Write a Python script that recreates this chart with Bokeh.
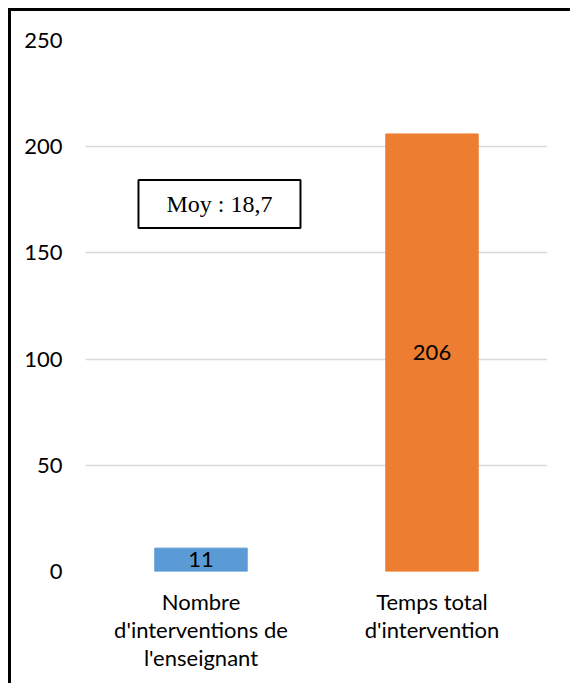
from bokeh.plotting import figure
from bokeh.models import Range1d, ColumnDataSource, Label, FixedTicker
from bokeh.layouts import column
from bokeh.embed import file_html
from bokeh.resources import INLINE
from bokeh.core.properties import value

categories = ["Nombre\nd'interventions de\nl'enseignant", "Temps total\nd'intervention"]
values = [11, 206]
colors = ["#5B9BD5", "#ED7D31"]
y_ticks = [0, 50, 100, 150, 200, 250]
mean_text = "Moy : 18,7"
mean_pos = (0.58, 173)

src = ColumnDataSource(dict(
    cat=categories,
    val=values,
    half=[v / 2 for v in values],
    color=colors,
    txt=[str(v) for v in values],
))

p = figure(x_range=categories, y_range=Range1d(0, 250), width=562, height=675,
           output_backend="svg", toolbar_location=None,
           min_border_left=74, min_border_right=26, min_border_top=29, min_border_bottom=115)
p.styles = {"border-left": "3px solid black", "border-top": "3px solid black"}
p.outline_line_color = None
p.background_fill_color = "white"
p.border_fill_color = "white"

p.vbar(x="cat", top="val", width=0.4, color="color", source=src)
p.text(x="cat", y="half", text="txt", source=src, text_align="center",
       text_baseline="middle", text_font=value("Lato"), text_font_size="22px",
       text_color="black")

lab = Label(x=mean_pos[0], y=mean_pos[1], text=mean_text, text_align="center",
            text_baseline="middle", text_font="Liberation Serif", text_font_size="24px",
            text_color="black", border_line_color="black", border_line_width=2,
            background_fill_color="white", padding=(28, 11))
p.add_layout(lab)

p.xgrid.grid_line_color = None
p.ygrid.grid_line_color = "#D9D9D9"
p.ygrid.grid_line_width = 1.5
p.yaxis.ticker = FixedTicker(ticks=y_ticks)

for ax in (p.xaxis, p.yaxis):
    ax.axis_line_color = None
    ax.major_tick_line_color = None
    ax.minor_tick_line_color = None
    ax.major_tick_out = 0
    ax.major_tick_in = 0
    ax.major_label_text_font = "Lato"
    ax.major_label_text_font_size = "22px"
    ax.major_label_text_color = "black"

p.xaxis.major_label_text_line_height = 1.05
p.xaxis.major_label_standoff = 16
p.yaxis.major_label_standoff = 23

root = column(p, styles={"padding-left": "8px", "padding-top": "8px", "background-color": "white"})

open("out.html", "w").write(file_html(root, INLINE))
